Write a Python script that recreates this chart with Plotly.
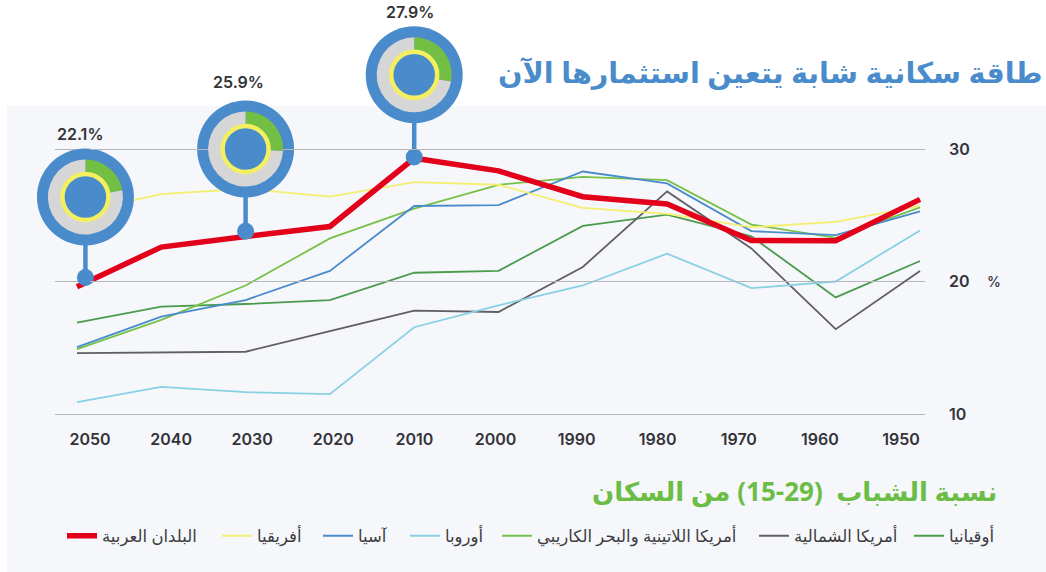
import plotly.graph_objects as go

years = [2050, 2040, 2030, 2020, 2010, 2000, 1990, 1980, 1970, 1960, 1950]
oceania = [16.9, 18.1, 18.3, 18.6, 20.66, 20.8, 24.2, 25.05, 23.4, 18.8, 21.55]
north_america = [14.6, 14.65, 14.7, 16.25, 17.8, 17.7, 21.1, 26.8, 22.5, 16.4, 20.8]
latin_america = [14.9, 17.1, 19.7, 23.25, 25.5, 27.3, 27.9, 27.65, 24.3, 23.3, 25.6]
europe = [10.9, 12.05, 11.65, 11.5, 16.55, 18.2, 19.7, 22.1, 19.5, 20.0, 23.85]
asia = [15.05, 17.35, 18.6, 20.8, 25.7, 25.77, 28.3, 27.4, 23.8, 23.5, 25.3]
africa = [25.2, 26.6, 27.0, 26.4, 27.5, 27.3, 25.55, 25.1, 24.1, 24.5, 25.7]
arab = [19.6, 22.6, 23.4, 24.15, 29.3, 28.35, 26.4, 25.85, 23.1, 23.07, 26.2]

names = ["أوقيانيا", "أمريكا الشمالية", "أمريكا اللاتينية والبحر الكاريبي", "أوروبا", "آسيا", "أفريقيا", "البلدان العربية"]
series = [oceania, north_america, latin_america, europe, asia, africa, arab]
colors = ["#4a9c4c", "#5f5f64", "#78c148", "#88d0e4", "#4a8ccb", "#f4ef70", "#e2001a"]
widths = [1.8, 1.8, 1.8, 1.8, 1.8, 1.8, 5.5]
legend_px = [912, 757, 500, 408, 321, 220, 65]

pin_labels = ["22.1%", "25.9%", "27.9%"]
pin_shares = [22.1, 25.9, 27.9]
pin_years = [2049, 2030, 2010]
pin_values = [20.3, 23.8, 29.4]
pin_heads = [26.38, 30.0, 35.6]
label_dx = [-5, -7, -4]
label_dy = [63, 67, 63]

title = "طاقة سكانية شابة يتعين استثمارها الآن"
subtitle = "نسبة الشباب  (29-15) من السكان"

W, H = 1046, 572
BLUE = "#4a8ccb"
INK = "#333338"
FONT = "Inter, 'Noto Sans', 'DejaVu Sans', sans-serif"
AR_FONT = "'Noto Sans', 'DejaVu Sans', sans-serif"

PX_PER_YEAR = (920 - 77) / 100
PX_PER_UNIT = (414 - 149) / 20
Y_LOW, Y_HIGH = 9.5, 37.0
PLOT_BOTTOM = 414 + (10 - Y_LOW) * PX_PER_UNIT
PLOT_TOP = 414 - (Y_HIGH - 10) * PX_PER_UNIT


def px_x(year):
    return 77 + (2050 - year) * PX_PER_YEAR


def px_y(value):
    return 414 - (value - 10) * PX_PER_UNIT


fig = go.Figure()
legends = {}
for i, (name, vals, col, w, lx) in enumerate(zip(names, series, colors, widths, legend_px)):
    key = "legend" if i == 0 else f"legend{i + 1}"
    fig.add_trace(go.Scatter(x=years, y=vals, name=name, mode="lines", legend=key,
                             line=dict(color=col, width=w), hoverinfo="skip"))
    legends[key] = dict(x=(lx - 3) / W, xanchor="left", y=1 - 536 / H, yanchor="middle",
                        font=dict(family=AR_FONT, size=16.5, color="#3c3c40"), itemwidth=30,
                        bgcolor="rgba(0,0,0,0)")

fig.add_trace(go.Scatter(x=years, y=[None] * len(years), xaxis="x2", yaxis="y", mode="lines",
                         showlegend=False, hoverinfo="skip"))

for yr, val, head in zip(pin_years, pin_values, pin_heads):
    fig.add_trace(go.Scatter(x=[yr, yr], y=[val, head], mode="lines", showlegend=False, hoverinfo="skip",
                             cliponaxis=False, line=dict(color=BLUE, width=4.5)))
    fig.add_trace(go.Scatter(x=[yr], y=[val], mode="markers", showlegend=False, hoverinfo="skip",
                             cliponaxis=False, marker=dict(color=BLUE, size=17)))
    fig.add_trace(go.Scatter(x=[yr], y=[head], mode="markers", showlegend=False, hoverinfo="skip",
                             cliponaxis=False, marker=dict(color=BLUE, size=97)))

shapes = [dict(type="rect", xref="paper", yref="paper", x0=7 / W, x1=1, y0=0, y1=1 - 106 / H,
               fillcolor="#f5f7fb", line_width=0, layer="below")]
annotations = []
R = 37.5
for yr, head, share, label, dx, dy in zip(pin_years, pin_heads, pin_shares, pin_labels, label_dx, label_dy):
    cx, cy = px_x(yr), px_y(head)
    fig.add_trace(go.Pie(values=[share, 100 - share], sort=False, direction="clockwise", rotation=0,
                         hole=0.6, textinfo="none", hoverinfo="skip", showlegend=False,
                         marker=dict(colors=["#72bf44", "#d6d6d6"], line=dict(width=0)),
                         domain=dict(x=[(cx - R) / W, (cx + R) / W],
                                     y=[1 - (cy + R) / H, 1 - (cy - R) / H])))
    shapes.append(dict(type="circle", xref="paper", yref="paper", layer="above",
                       x0=(cx - 23) / W, x1=(cx + 23) / W, y0=1 - (cy + 23) / H, y1=1 - (cy - 23) / H,
                       fillcolor=BLUE, line=dict(color="#f4ef60", width=4.5)))
    annotations.append(dict(text=label, xref="paper", yref="paper", x=(cx + dx) / W, y=1 - (cy - dy) / H,
                            showarrow=False, xanchor="center", yanchor="middle",
                            font=dict(family=FONT, size=16, color=INK, weight=600)))

annotations += [
    dict(text="%", xref="paper", yref="paper", x=994 / W, y=1 - 281 / H, showarrow=False,
         xanchor="center", yanchor="middle",
         font=dict(family=FONT, size=14, color=INK, weight=500)),
    dict(text=title, xref="paper", yref="paper", x=1045 / W, y=1 - 72 / H, showarrow=False,
         xanchor="right", yanchor="middle", font=dict(family=AR_FONT, size=28.7, color=BLUE, weight=700)),
    dict(text=subtitle, xref="paper", yref="paper", x=999 / W, y=1 - 491 / H, showarrow=False,
         xanchor="right", yanchor="middle", font=dict(family=AR_FONT, size=26, color="#6cbd45", weight=700)),
]

fig.update_layout(
    width=W, height=H, margin=dict(l=0, r=0, t=0, b=0, autoexpand=False),
    paper_bgcolor="white", plot_bgcolor="rgba(0,0,0,0)",
    shapes=shapes, annotations=annotations,
    xaxis=dict(domain=[55 / W, 925 / W], range=[2050 + 22 / PX_PER_YEAR, 1950 - 5 / PX_PER_YEAR],
               showgrid=False, zeroline=False, showticklabels=False, ticks=""),
    xaxis2=dict(domain=[90 / W, 901 / W], range=[2050, 1950], anchor="y", tickvals=years,
                showgrid=False, zeroline=False, showline=False, ticks="", ticklabelstandoff=7,
                tickfont=dict(family=FONT, size=16, color=INK, weight=600)),
    yaxis=dict(domain=[1 - PLOT_BOTTOM / H, 1 - PLOT_TOP / H], range=[Y_LOW, Y_HIGH], side="right", anchor="x",
               tickvals=[10, 20, 30], gridcolor="#b6b7bb", gridwidth=1.3, zeroline=False, ticks="",
               ticklabelstandoff=23, tickfont=dict(family=FONT, size=16, color=INK, weight=600)),
    showlegend=True,
    **legends,
)

fig.write_html("out.html", config={"displayModeBar": False},
               post_script="document.body.style.margin='0';document.body.style.overflow='hidden';")
